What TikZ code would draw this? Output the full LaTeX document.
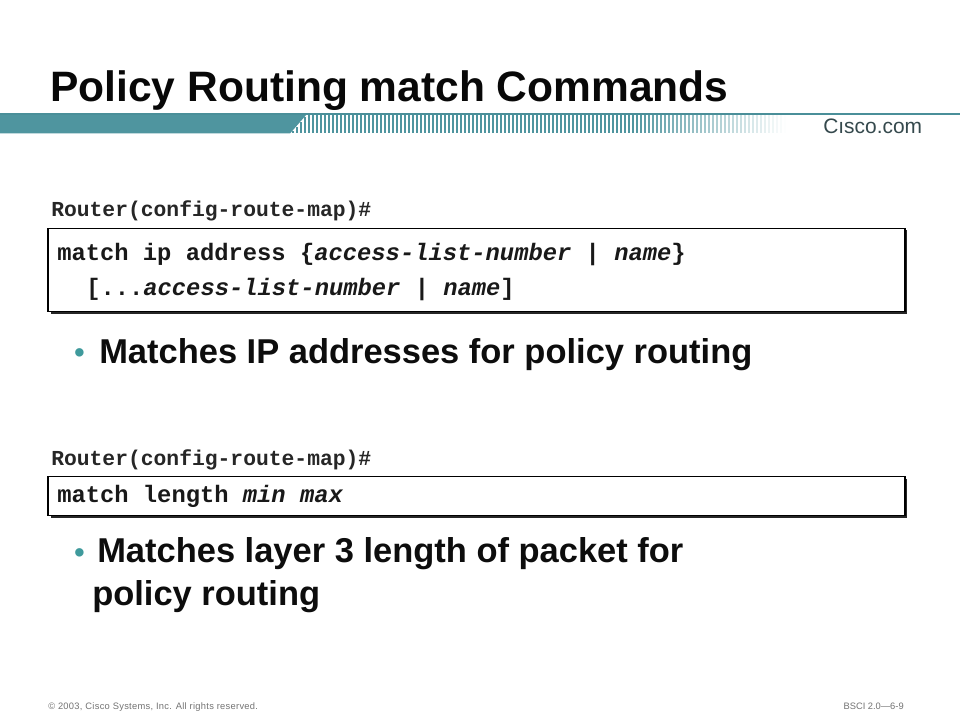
\documentclass[tikz,border=0pt]{standalone}
\usepackage{fontspec}
\setmainfont{Liberation Sans}
\setmonofont{Liberation Mono}
\newfontfamily\footspaced[LetterSpace=3.1]{Liberation Sans}
\definecolor{teal1}{HTML}{4F959F}
\definecolor{tealdark}{HTML}{4A8F99}
\definecolor{dotteal}{HTML}{3F9A9C}
\definecolor{logo}{HTML}{35494D}
\tikzset{
  title/.style={inner sep=0pt,anchor=base west,font=\fontsize{31.9}{32}\selectfont\bfseries,text=black!97},
  prompt/.style={inner sep=0pt,anchor=base west,font=\fontsize{16}{16}\selectfont\ttfamily\bfseries,text=black!85},
  cmd/.style={inner sep=0pt,anchor=base west,font=\fontsize{17.85}{18}\selectfont\ttfamily\bfseries,text=black!90},
  bullet/.style={inner sep=0pt,anchor=base west,font=\fontsize{25.85}{26}\selectfont\bfseries,text=black!95},
  dotmark/.style={inner sep=0pt,anchor=base west,font=\fontsize{22}{22}\selectfont\bfseries,text=dotteal},
  foot/.style={inner sep=0pt,font=\fontsize{7}{8}\selectfont,text=black!55},
  cmdbox/.style={draw=black,line width=0.9pt,fill=white},
  cmdshadow/.style={fill=black!85}
}
\begin{document}
\begin{tikzpicture}[x=0.75pt,y=0.75pt]
\useasboundingbox[fill=white] (0,0) rectangle (960,-720);
% header band
\fill[teal1] (0,-114) -- (307,-114) -- (290,-133.5) -- (0,-133.5) -- cycle;
\fill[tealdark] (0,-113) rectangle (960,-115.5);
\foreach \i in {0,...,123}{
  \pgfmathsetmacro{\px}{292+4*\i}
  \pgfmathsetmacro{\fade}{\i<85 ? 100 : max(0,100-(\i-85)*2.6)}
  \pgfmathsetmacro{\topy}{\px<307 ? -133.5+(\px-290)*1.15 : -115.5}
  \fill[teal1!\fade!white] (\px,\topy) rectangle ++(2,-133.5-\topy);
}
\node[inner sep=0pt,anchor=base west,font=\fontsize{15.7}{17}\selectfont,text=logo] (logotext) at (823,-133.5) {C\i sco.com};
% title
\node[title] (head) at (50,-102) {Policy Routing match Commands};
% first block
\node[prompt] (p1) at (51,-217) {Router(config-route-map)\#};
\fill[cmdshadow] (50.5,-230.5) rectangle (907,-314);
\draw[cmdbox] (48,-228.5) rectangle (905,-311.5);
\node[cmd] (c1) at (57,-261) {match ip address \{\textit{access-list-number} | \textit{name}\}};
\node[cmd] (c2) at (86,-296) {[...\textit{access-list-number} | \textit{name}]};
\node[dotmark] (d1) at (74,-362) {•};
\node[bullet] (b1) at (99,-363) {Matches IP addresses for policy routing};
% second block
\node[prompt] (p2) at (51,-465) {Router(config-route-map)\#};
\fill[cmdshadow] (50.5,-478.5) rectangle (907,-518);
\draw[cmdbox] (48,-476.5) rectangle (905,-515.5);
\node[cmd] (c3) at (57,-502) {match length \textit{min max}};
\node[dotmark] (d2) at (74,-562) {•};
\node[bullet] (b2) at (97,-562) {Matches layer 3 length of packet for};
\node[bullet] (b3) at (92,-605) {policy routing};
% footer
\node[foot,anchor=base west] (f1) at (48,-709) {\footspaced © 2003, Cisco Systems, Inc. All rights reserved.};
\node[foot,anchor=base east] (f2) at (904,-709) {BSCI 2.0—6-9};
\end{tikzpicture}
\end{document}
